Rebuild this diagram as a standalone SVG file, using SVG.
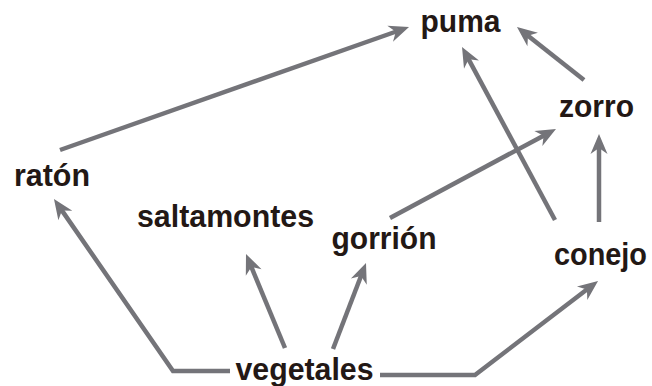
<svg xmlns="http://www.w3.org/2000/svg" width="652" height="386" viewBox="0 0 652 386">
<style>
.lbl{font-family:"Liberation Sans",Arial,sans-serif;font-weight:bold;font-size:32px;fill:#231815}
.c{fill:none;stroke:#747479;stroke-width:4.5;stroke-linejoin:miter}
</style>
<defs>
<marker id="ah" markerUnits="userSpaceOnUse" orient="auto" refX="0" refY="0" markerWidth="30" markerHeight="30" overflow="visible">
<path d="M12,0 L-8,-8.5 L-2,0 L-8,8.5 Z" fill="#747479"/>
</marker>
</defs>
<rect width="652" height="386" fill="#ffffff"/>
<g id="connectors">
<path class="c" marker-end="url(#ah)" d="M60,150 L397.7,31"/>
<path class="c" marker-end="url(#ah)" d="M584,80 L526.4,34.5"/>
<path class="c" marker-end="url(#ah)" d="M555,220 L467.7,57.6"/>
<path class="c" marker-end="url(#ah)" d="M390,218 L545.4,134.7"/>
<path class="c" marker-end="url(#ah)" d="M599,222 L599,146"/>
<path class="c" marker-end="url(#ah)" d="M230,371 L173,371 L60.8,208.9"/>
<path class="c" marker-end="url(#ah)" d="M285,348 L250.6,265.1"/>
<path class="c" marker-end="url(#ah)" d="M333,349 L361.7,274.2"/>
<path class="c" marker-end="url(#ah)" d="M380,375 L475,375 L588.5,288.3"/>
</g>
<g id="puma"><text class="lbl" x="420.5" y="32" textLength="80" lengthAdjust="spacingAndGlyphs">puma</text></g>
<g id="zorro"><text class="lbl" x="559" y="117" textLength="75" lengthAdjust="spacingAndGlyphs">zorro</text></g>
<g id="raton"><text class="lbl" x="14" y="186" textLength="76" lengthAdjust="spacingAndGlyphs">ratón</text></g>
<g id="saltamontes"><text class="lbl" x="137" y="227" textLength="177" lengthAdjust="spacingAndGlyphs">saltamontes</text></g>
<g id="gorrion"><text class="lbl" x="331.5" y="249" textLength="105" lengthAdjust="spacingAndGlyphs">gorrión</text></g>
<g id="conejo"><text class="lbl" x="554" y="265" style="font-size:30.5px" textLength="93" lengthAdjust="spacingAndGlyphs">conejo</text></g>
<g id="vegetales"><text class="lbl" x="235.5" y="380" textLength="138" lengthAdjust="spacingAndGlyphs">vegetales</text></g>
</svg>
